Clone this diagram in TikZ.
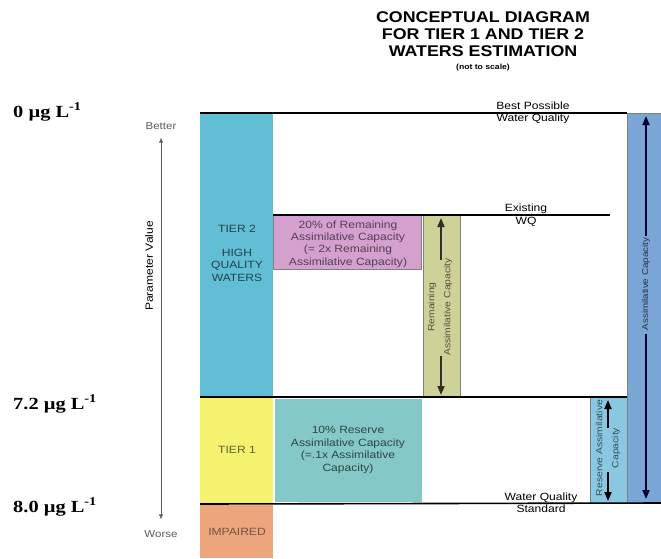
\documentclass[tikz,border=0pt]{standalone}
\usepackage{fontspec}
\setmainfont{Liberation Sans}[FakeStretch=1.15]
\newfontfamily\concfont{Liberation Serif}[FakeStretch=1.2]
\usetikzlibrary{arrows.meta}

\definecolor{tiertwo}{RGB}{98,190,212}
\definecolor{tierone}{RGB}{245,242,112}
\definecolor{impaired}{RGB}{236,165,125}
\definecolor{remainpct}{RGB}{212,160,206}
\definecolor{remaincap}{RGB}{206,210,152}
\definecolor{reservepct}{RGB}{132,200,200}
\definecolor{reservecap}{RGB}{138,200,226}
\definecolor{assimcap}{RGB}{122,166,214}

\begin{document}
\begin{tikzpicture}[x=1pt,y=1pt,yscale=-1,
  band/.style={inner sep=0, outer sep=0, anchor=north west},
  txt/.style={font=\fontsize{10.5}{12.4}\selectfont, align=center, inner sep=0},
  rottxt/.style={font=\fontsize{9}{16}\selectfont, align=center, inner sep=0, rotate=90},
  conc/.style={font=\concfont\bfseries\fontsize{17}{18}\selectfont, anchor=west, inner sep=0},
  level/.style={line width=1.6},
  bigarrow/.style={line width=1.8, -{Triangle[length=9,width=7]}}]
\useasboundingbox (0,0) rectangle (661,558);

% title
\node[font=\bfseries\fontsize{15.5}{17}\selectfont, align=center, inner sep=0] (title) at (483,34) {CONCEPTUAL DIAGRAM\\FOR TIER 1 AND TIER 2\\WATERS ESTIMATION};
\node[font=\bfseries\fontsize{7.5}{9}\selectfont, inner sep=0] (scale) at (483,68) {(not to scale)};

% coloured bands
\node[band, fill=tiertwo, minimum width=73, minimum height=284] (tier2) at (200,113) {};
\node[band, fill=tierone, minimum width=73, minimum height=106] (tier1) at (200,398) {};
\node[band, fill=impaired, minimum width=73, minimum height=53] (impair) at (200,505) {};
\node[band, fill=remainpct, draw=gray, thin, minimum width=148, minimum height=54] (pct20) at (273,215) {};
\node[band, fill=remaincap, draw=gray, thin, minimum width=37, minimum height=182] (remcap) at (423,215) {};
\node[band, fill=reservepct, minimum width=147, minimum height=103] (pct10) at (275,399) {};
\node[band, fill=reservecap, draw=gray, thin, minimum width=37, minimum height=106] (rescap) at (590,397) {};
\node[band, fill=assimcap, draw=gray, thin, minimum width=34, minimum height=390] (assim) at (627,113) {};

% levels
\coordinate (wqend) at (610,215);
\draw[level] (tier2.north west) -- (assim.north west);
\draw[level] (pct20.north west) -- (wqend);
\draw[level] (tier2.south west) -- (rescap.north east);
\draw[level] (tier1.south west) -- (assim.south east);
\node[txt] (best) at (533,113) {Best Possible\\Water Quality};
\node[txt] (exist) at (526,215) {Existing\\WQ};
\node[txt] (wqs) at (541,503) {Water Quality\\Standard};

% concentrations
\node[conc] (c0) at (13,112) {0 µg L\textsuperscript{-1}};
\node[conc] (c72) at (13,404) {7.2 µg L\textsuperscript{-1}};
\node[conc] (c80) at (13,507) {8.0 µg L\textsuperscript{-1}};

% parameter axis
\node[txt, font=\fontsize{10}{12}\selectfont, text=gray!70!black] (better) at (161,126) {Better};
\node[txt, font=\fontsize{10}{12}\selectfont, text=gray!70!black] (worse) at (161,534) {Worse};
\draw[gray!70!black, {Latex[length=5,width=4]}-{Latex[length=5,width=4]}, shorten <=8, shorten >=11] (better) -- (worse);
\node[txt, font=\fontsize{10.5}{12}\selectfont, rotate=90] (param) at (149,266) {Parameter Value};

% band texts
\node[txt, text=tiertwo!35!black] (t2) at (237,229) {TIER 2};
\node[txt, text=tiertwo!35!black] (hq) at (237,265) {HIGH\\QUALITY\\WATERS};
\node[txt, text=tierone!40!black] (t1) at (237,450) {TIER 1};
\node[txt, text=impaired!50!black] (imp) at (237,532) {IMPAIRED};
\node[txt, text=remainpct!40!black] (pct20txt) at (348,244) {20\% of Remaining\\Assimilative Capacity\\(= 2x Remaining\\Assimilative Capacity)};
\node[txt, text=reservepct!35!black] (pct10txt) at (348,450) {10\% Reserve\\Assimilative Capacity\\(=.1x Assimilative\\Capacity)};

% capacity arrows
\node[rottxt, text=remaincap!40!black] (remtxt) at (440,307) {Remaining\\Assimilative Capacity};
\draw[bigarrow, black!85!olive] (441,260) -- (441,218);
\draw[bigarrow, black!85!olive] (441,356) -- (441,395);
\node[rottxt, text=reservecap!40!black] (restxt) at (608,448) {Reserve Assimilative\\Capacity};
\draw[bigarrow] (608,428) -- (608,400);
\draw[bigarrow] (608,472) -- (608,501);
\node[rottxt, font=\fontsize{8.5}{10}\selectfont, text=assimcap!30!black] (assimtxt) at (646,284) {Assimilative Capacity};
\draw[bigarrow, black!80!blue] (646,236) -- (646,116);
\draw[bigarrow, black!80!blue] (646,334) -- (646,499);
\end{tikzpicture}
\end{document}
